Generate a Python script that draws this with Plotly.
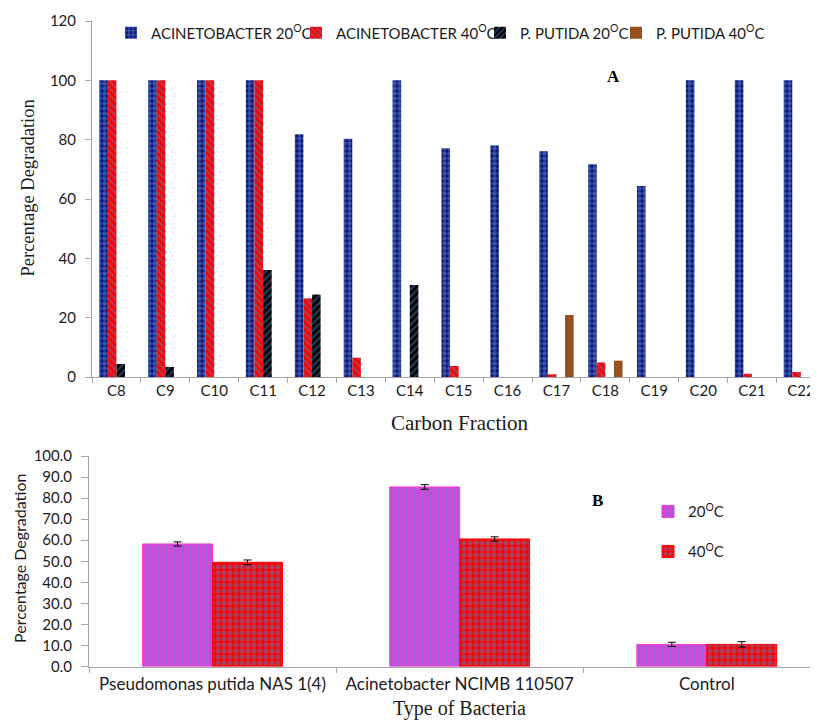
import plotly.graph_objects as go

# ---------------- Panel A data ----------------
carbon = ["C8", "C9", "C10", "C11", "C12", "C13", "C14", "C15",
          "C16", "C17", "C18", "C19", "C20", "C21", "C22"]
acin_20 = [100, 100, 100, 100, 81.8, 80.3, 100, 77.1, 78.0, 76.1, 71.7, 64.4, 100, 100, 100]
acin_40 = [100, 100, 100, 100, 26.5, 6.5, 0, 3.7, 0, 0.9, 4.9, 0, 0, 1.1, 1.7]
put_20 = [4.4, 3.4, 0, 36.1, 27.8, 0, 31.0, 0, 0, 0, 0, 0, 0, 0, 0]
put_40 = [0, 0, 0, 0, 0, 0, 0, 0, 0, 20.9, 5.5, 0, 0, 0, 0]
names_a = ["ACINETOBACTER 20<sup>O</sup>C", "ACINETOBACTER 40<sup>O</sup>C",
           "P. PUTIDA 20<sup>O</sup>C", "P. PUTIDA 40<sup>O</sup>C"]

# ---------------- Panel B data ----------------
bacteria = ["Pseudomonas putida NAS 1(4)", "Acinetobacter NCIMB 110507", "Control"]
deg_20 = [58.2, 85.3, 10.5]
deg_40 = [49.5, 60.6, 10.5]
err_20 = [1.0, 1.1, 1.0]
err_40 = [1.1, 1.0, 1.3]
names_b = ["20<sup>O</sup>C", "40<sup>O</sup>C"]

# page body has an 8px margin: build the figure 8px smaller and shift coordinates
OFF = 8
W, H = 818 - OFF, 720 - OFF
SANS = "Lato"
SERIF = "Liberation Serif"
TXT = "#1a1a1a"
AX = "#a6a6a6"

def px(x):
    return (x - OFF) / W

def py(y):
    return 1 - (y - OFF) / H

fig = go.Figure()

styles_a = [
    dict(color="#0a1478", pattern=dict(shape=".", bgcolor="#0a1478", fgcolor="#6d93d8", size=5, solidity=0.6)),
    dict(color="#ff0000", pattern=dict(shape="\\", bgcolor="#ff0000", fgcolor="#4f81bd", size=5, solidity=0.4)),
    dict(color="#000000", pattern=dict(shape="/", bgcolor="#000000", fgcolor="#4f81bd", size=5, solidity=0.4)),
    dict(color="#9a5520", pattern=dict(shape=".", bgcolor="#9a5520", fgcolor="#7a4010", size=3, solidity=0.3)),
]
series_a = [acin_20, acin_40, put_20, put_40]
bw_a = 0.176
offs_a = [-2 * bw_a, -bw_a, 0, bw_a]
legends_a = ["legend", "legend2", "legend3", "legend4"]
for i in range(4):
    fig.add_trace(go.Bar(
        x=carbon, y=series_a[i], name=names_a[i],
        width=bw_a, offset=offs_a[i],
        marker=dict(color=styles_a[i]["color"], pattern=styles_a[i]["pattern"], line=dict(width=0)),
        xaxis="x", yaxis="y", legend=legends_a[i],
    ))

styles_b = [
    dict(color="#dd44dd", pattern=dict(shape="|", bgcolor="#dd44dd", fgcolor="#6a78d0", size=4, solidity=0.5),
         line=dict(color="#ff33cc", width=1)),
    dict(color="#ff0000", pattern=dict(shape=".", bgcolor="#ff0000", fgcolor="#4f81bd", size=6, solidity=0.55),
         line=dict(color="#ff0000", width=1)),
]
series_b = [deg_20, deg_40]
errs_b = [err_20, err_40]
bw_b = 0.283
offs_b = [-bw_b, 0]
legends_b = ["legend5", "legend6"]
for i in range(2):
    fig.add_trace(go.Bar(
        x=bacteria, y=series_b[i], name=names_b[i],
        width=bw_b, offset=offs_b[i],
        marker=dict(color=styles_b[i]["color"], pattern=styles_b[i]["pattern"], line=styles_b[i]["line"]),
        error_y=dict(type="data", array=errs_b[i], visible=True, color="#000000", thickness=1, width=4),
        xaxis="x2", yaxis="y2", legend=legends_b[i],
    ))

axis_common = dict(showline=True, linecolor=AX, linewidth=1, ticks="outside", tickcolor=AX,
                   showgrid=False, zeroline=False, automargin=False)

leg_common = dict(bgcolor="rgba(0,0,0,0)", borderwidth=0, font=dict(family=SANS, size=15, color=TXT),
                  xanchor="left", yanchor="middle", orientation="h", itemwidth=30)

def leg(text_x, my):
    # legend text starts about 40px after the legend's left edge
    d = dict(leg_common)
    d.update(x=px(text_x - 38), y=py(my))
    return d

fig.update_layout(
    width=W, height=H,
    margin=dict(l=0, r=0, t=0, b=0),
    paper_bgcolor="white", plot_bgcolor="white",
    barmode="overlay",
    showlegend=True,
    xaxis=dict(axis_common, domain=[px(92), 1], range=[-0.5, 14.35], type="category",
               tickson="boundaries", ticklen=5, anchor="y", ticklabeloverflow="allow",
               tickangle=0, tickfont=dict(family=SANS, size=15, color=TXT)),
    yaxis=dict(axis_common, domain=[py(377), py(21)], range=[0, 120], dtick=20, ticklen=6,
               anchor="x", ticklabelstandoff=6,
               tickfont=dict(family=SANS, size=15, color=TXT)),
    xaxis2=dict(axis_common, domain=[px(89), 1], range=[-0.5, 2.45], type="category",
                tickson="boundaries", ticklen=5, anchor="y2", ticklabelstandoff=2,
                tickangle=0, tickfont=dict(family=SANS, size=17, color=TXT)),
    yaxis2=dict(axis_common, domain=[py(666.5), py(456)], range=[0, 100], dtick=10, ticklen=7,
                tickformat=".1f", anchor="x2", ticklabelstandoff=6,
                tickfont=dict(family=SANS, size=15, color=TXT)),
    legend=leg(149, 33),
    legend2=leg(334, 33),
    legend3=leg(518, 33),
    legend4=leg(654, 33),
    legend5=leg(686, 511.7),
    legend6=leg(686, 551.7),
    annotations=[
        dict(text="<b>A</b>", x=px(613), y=py(76.7), xref="paper", yref="paper", showarrow=False,
             xanchor="center", yanchor="middle", font=dict(family=SERIF, size=17, color="#000")),
        dict(text="<b>B</b>", x=px(597.7), y=py(500), xref="paper", yref="paper", showarrow=False,
             xanchor="center", yanchor="middle", font=dict(family=SERIF, size=17, color="#000")),
        dict(text="Percentage Degradation", x=px(27), y=py(188.5), xref="paper", yref="paper",
             showarrow=False, textangle=-90, xanchor="center", yanchor="middle",
             font=dict(family=SERIF, size=18.5, color=TXT)),
        dict(text="Carbon Fraction", x=px(460), y=py(423), xref="paper", yref="paper",
             showarrow=False, xanchor="center", yanchor="middle",
             font=dict(family=SERIF, size=21, color=TXT)),
        dict(text="Percentage Degradation", x=px(19), y=py(559), xref="paper", yref="paper",
             showarrow=False, textangle=-90, xanchor="center", yanchor="middle",
             font=dict(family=SANS, size=16, color=TXT)),
        dict(text="Type of Bacteria", x=px(459), y=py(708.5), xref="paper", yref="paper",
             showarrow=False, xanchor="center", yanchor="middle",
             font=dict(family=SERIF, size=20, color=TXT)),
    ],
)

fig.write_html("out.html")
